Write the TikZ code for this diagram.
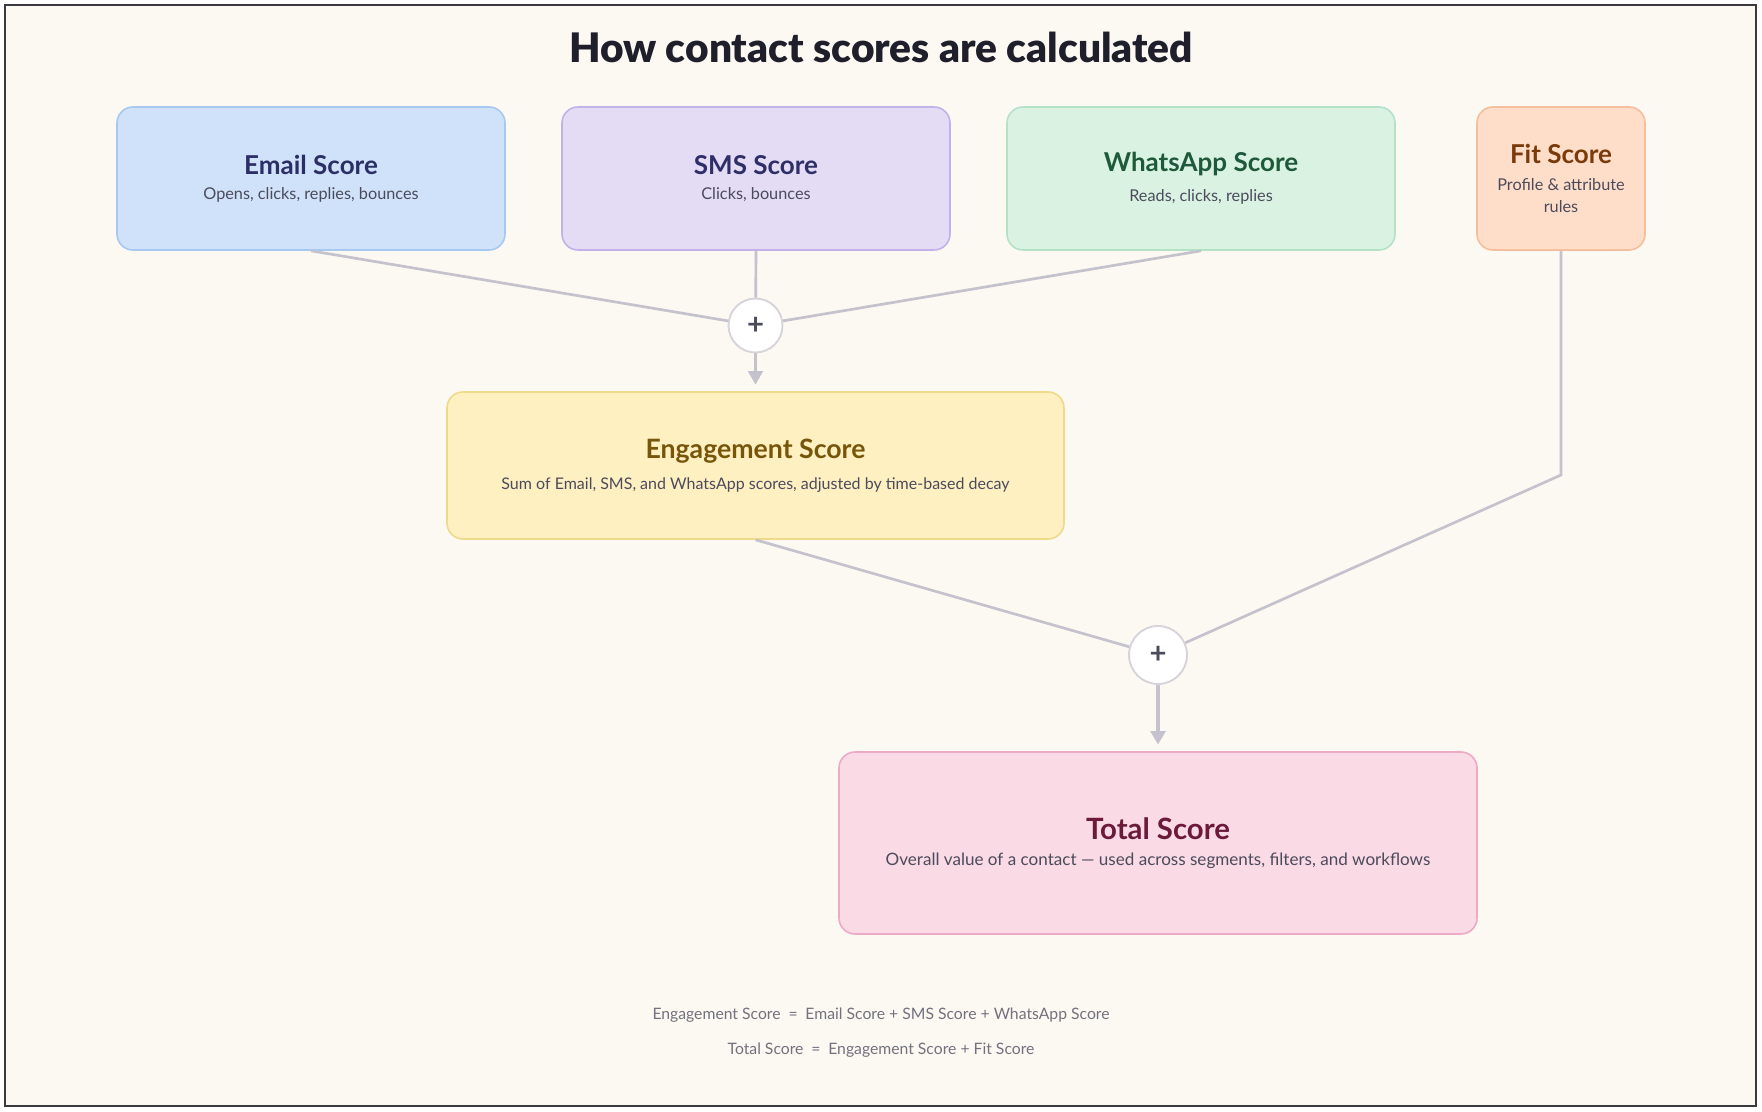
\documentclass[tikz,border=0pt]{standalone}
\usepackage{fontspec}
\setmainfont{Lato}
\newfontfamily\heavyfont{Lato Black}
\usetikzlibrary{arrows.meta}

\definecolor{paper}{HTML}{FCF8F2}
\definecolor{frame}{HTML}{3A3A40}
\definecolor{headtxt}{HTML}{1F1F2B}
\definecolor{subtxt}{HTML}{4B4B5C}
\definecolor{formtxt}{HTML}{72727F}
\definecolor{linkgray}{HTML}{C4C2CC}
\definecolor{plusline}{HTML}{D6D4DA}
\definecolor{emailbg}{HTML}{CFE2FA}\definecolor{emailln}{HTML}{A7C8F0}\definecolor{emailtx}{HTML}{2B2F66}
\definecolor{smsbg}{HTML}{E4DBF5}\definecolor{smsln}{HTML}{C3B1EA}\definecolor{smstx}{HTML}{2F2F68}
\definecolor{wabg}{HTML}{DAF2E2}\definecolor{waln}{HTML}{B3E3C4}\definecolor{watx}{HTML}{1E5A3A}
\definecolor{fitbg}{HTML}{FFDEC9}\definecolor{fitln}{HTML}{F5BE9C}\definecolor{fittx}{HTML}{7A3A0A}
\definecolor{engbg}{HTML}{FFF0C2}\definecolor{engln}{HTML}{F0D98A}\definecolor{engtx}{HTML}{77560A}
\definecolor{totbg}{HTML}{FADAE5}\definecolor{totln}{HTML}{EDAAC7}\definecolor{tottx}{HTML}{6B1A3A}

\newcommand{\cardhead}[3]{{\color{#1}\fontsize{#2}{#2}\selectfont\bfseries #3}}
\newcommand{\cardnote}[2]{{\color{subtxt}\fontsize{#1}{17.5}\selectfont #2}}

\begin{document}
\begin{tikzpicture}[x=0.75pt,y=-0.75pt,
  card/.style={draw,line width=1.2pt,rounded corners=12pt,align=center,inner sep=0pt},
  sumdot/.style={circle,draw=plusline,fill=white,line width=1.4pt,inner sep=0pt,
    font=\fontsize{22}{22}\selectfont\bfseries,text=subtxt},
  link/.style={draw=linkgray,line width=2pt},
  >={Triangle[length=10pt,width=11pt]}]
  \useasboundingbox (0,0) rectangle (1762,1112);
  % fondo y marco
  \fill[white] (0,0) rectangle (1762,1112);
  \fill[paper] (5,5) rectangle (1756,1106);
  \draw[frame,line width=1.6pt] (5,5) rectangle (1756,1106);
  \node[text=headtxt,font=\fontsize{30.5}{30.5}\selectfont\heavyfont] (title) at (881,47) {How contact scores are calculated};
  % canales
  \node[card,fill=emailbg,draw=emailln,minimum width=291pt,minimum height=107.25pt] (email) at (311,178.5)
    {\cardhead{emailtx}{19.5}{Email Score}\\[7pt]\cardnote{12.2}{Opens, clicks, replies, bounces}};
  \node[card,fill=smsbg,draw=smsln,minimum width=291pt,minimum height=107.25pt] (sms) at (756,178.5)
    {\cardhead{smstx}{19.5}{SMS Score}\\[7pt]\cardnote{12.2}{Clicks, bounces}};
  \node[card,fill=wabg,draw=waln,minimum width=291pt,minimum height=107.25pt] (whatsapp) at (1201,178.5)
    {\cardhead{watx}{19.5}{WhatsApp Score}\\[9pt]\cardnote{12.2}{Reads, clicks, replies}};
  \node[card,fill=fitbg,draw=fitln,minimum width=126pt,minimum height=107.25pt] (fit) at (1561,178.5)
    {\cardhead{fittx}{19.5}{Fit Score}\\[8pt]\cardnote{12.2}{Profile \& attribute}\\[5pt]\cardnote{12.2}{rules}};
  % sumas
  \node[sumdot,minimum size=40.5pt] (sum1) at (755.5,325.5) {+};
  \node[card,fill=engbg,draw=engln,minimum width=462.75pt,minimum height=110.25pt] (engage) at (755.5,465.5)
    {\cardhead{engtx}{20}{Engagement Score}\\[10pt]\cardnote{12}{Sum of Email, SMS, and WhatsApp scores, adjusted by time-based decay}};
  \node[sumdot,minimum size=43.5pt] (sum2) at (1158,655) {+};
  \node[card,fill=totbg,draw=totln,minimum width=478.5pt,minimum height=136.5pt] (total) at (1158,843)
    {\cardhead{tottx}{22}{Total Score}\\[7pt]\cardnote{12.8}{Overall value of a contact --- used across segments, filters, and workflows}};
  \coordinate (fitbend) at (1561,475);
  % conexiones
  \draw[link] (email.south) -- (sum1);
  \draw[link] (sms.south) -- (sum1);
  \draw[link] (whatsapp.south) -- (sum1);
  \draw[link,->,shorten >=5pt] (sum1) -- (engage.north);
  \draw[link] (engage.south) -- (sum2);
  \draw[link] (fit.south) -- (fitbend) -- (sum2);
  \draw[link,->,line width=2.4pt,shorten >=5pt] (sum2) -- (total.north);
  % formulas
  \node[text=formtxt,font=\fontsize{11.8}{11.8}\selectfont] (form1) at (881,1015) {Engagement Score\enspace=\enspace Email Score + SMS Score + WhatsApp Score};
  \node[text=formtxt,font=\fontsize{11.8}{11.8}\selectfont] (form2) at (881,1050) {Total Score\enspace=\enspace Engagement Score + Fit Score};
\end{tikzpicture}
\end{document}
